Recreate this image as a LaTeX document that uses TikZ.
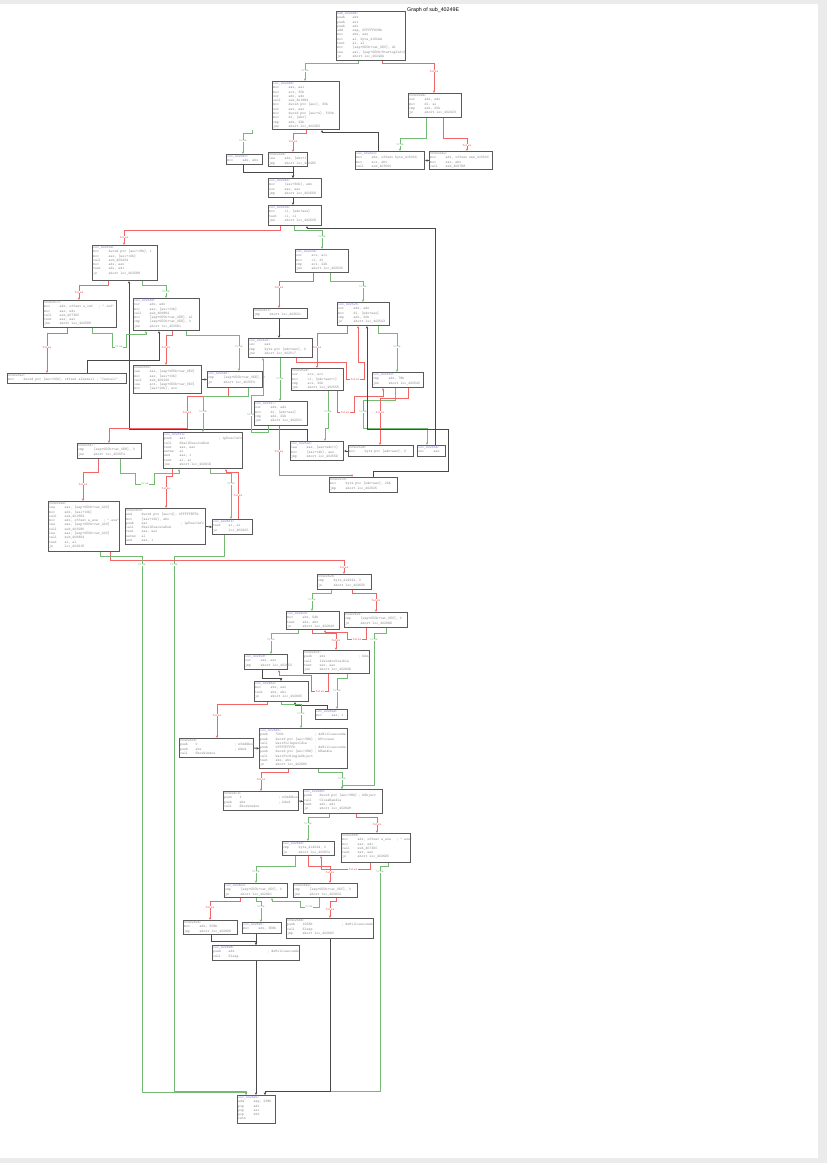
\documentclass[tikz,border=0pt]{standalone}
\usepackage{fontspec}
\setsansfont{Liberation Sans}
\usetikzlibrary{arrows.meta}
\pgfdeclarelayer{back}
\pgfdeclarelayer{bg}
\pgfsetlayers{back,bg,main}
\definecolor{bord}{HTML}{5A5A5A}
\definecolor{txtc}{HTML}{8A8A8A}
\definecolor{lbl}{HTML}{7C7CD6}
\definecolor{tg}{HTML}{74BA74}
\definecolor{fr}{HTML}{F06666}
\definecolor{un}{HTML}{484848}
\newcommand\bfont{\fontsize{3.7}{4.3}\selectfont\ttfamily}
\newcommand\lfont{\fontsize{3.3}{3.5}\selectfont\ttfamily}
\newcommand\Ins[2]{\makebox[4.2em][l]{#1}#2}
\newcommand\InsC[3]{\makebox[4.2em][l]{#1}\makebox[10.5em][l]{#2}; #3}
\newcommand\Lb[1]{\textcolor{lbl}{#1}}
\tikzset{
 box/.style={draw=bord, line width=1pt, fill=white, anchor=north west, inner sep=0pt},
 txt/.style={anchor=north west, inner sep=0.9pt, align=left, font=\bfont, text=txtc},
 T/.style={draw=tg, line width=0.8pt, -{Stealth[length=2.6pt,width=2.4pt]}},
 F/.style={draw=fr, line width=0.8pt, -{Stealth[length=2.6pt,width=2.4pt]}},
 U/.style={draw=un, line width=0.8pt, -{Stealth[length=2.6pt,width=2.4pt]}},
 tl/.style={font=\lfont, text=tg, fill=white, inner sep=0.3pt},
 fl/.style={font=\lfont, text=fr, fill=white, inner sep=0.3pt}
}
\newcommand\blk[6]{\node[box, minimum width=#4pt, minimum height=#5pt] (#1) at (#2,#3) {};
 \node[txt] (#1t) at (#1.north west) {#6};}
\newcommand\TL[3]{\node[tl] (#1) at (#2,#3) {true};}
\newcommand\FL[3]{\node[fl] (#1) at (#2,#3) {false};}
\begin{document}
\begin{tikzpicture}[x=1pt,y=-1pt]
\useasboundingbox (0,0) rectangle (827,1163);
\begin{pgfonlayer}{back}
\fill[gray!16] (0,0) rectangle (827,1163);
\fill[white] (0,4) rectangle (818,1158);
\end{pgfonlayer}
\node[font=\fontsize{5.3}{6}\selectfont\sffamily, anchor=west, inner sep=0pt] (title) at (407,10) {Graph of sub\_40249E};

\blk{b0}{336}{11}{69}{49}{\Lb{sub\_40249E:}\\\Ins{push}{ebx}\\\Ins{push}{esi}\\\Ins{push}{edi}\\\Ins{add}{esp, 0FFFFFDC8h}\\\Ins{mov}{ebx, eax}\\\Ins{mov}{al, byte\_4150AA}\\\Ins{test}{al, al}\\\Ins{mov}{[esp+0ECh+var\_0EC], dl}\\\Ins{lea}{esi, [esp+0ECh+StartupInfo]}\\\Ins{jz}{short loc\_4024DA}}
\blk{b1}{272}{81}{67}{48}{\Lb{loc\_4024B6:}\\\Ins{mov}{eax, esi}\\\Ins{mov}{ecx, 3Ch}\\\Ins{xor}{edx, edx}\\\Ins{call}{sub\_4019B4}\\\Ins{mov}{dword ptr [esi], 3Ch}\\\Ins{xor}{eax, eax}\\\Ins{mov}{dword ptr [esi+4], 500h}\\\Ins{mov}{dl, [ebx]}\\\Ins{cmp}{edx, 22h}\\\Ins{jnz}{short loc\_4024E3}}
\blk{b2}{408}{93}{53}{24}{004024DA:\\\Ins{xor}{edx, edx}\\\Ins{mov}{dl, al}\\\Ins{cmp}{edx, 20h}\\\Ins{jz}{short loc\_4024C3}}
\blk{b3}{226}{154}{36}{10}{\Lb{loc\_4024E3:}\\\Ins{mov}{edx, ebx}}
\blk{b4}{268}{152}{39}{14}{004024DE:\\\Ins{lea}{edx, [ebx+1]}\\\Ins{jmp}{short loc\_4024E5}}
\blk{b5}{355}{151}{69}{18}{\Lb{loc\_4024C3:}\\\Ins{mov}{edx, offset byte\_415004}\\\Ins{mov}{ecx, ebx}\\\Ins{call}{sub\_403500}}
\blk{b6}{429}{151}{63}{18}{004024E2:\\\Ins{mov}{edx, offset unk\_41500C}\\\Ins{mov}{eax, ebx}\\\Ins{call}{sub\_4067B8}}
\blk{b7}{268}{178}{53}{19}{\Lb{loc\_4024E5:}\\\Ins{mov}{[esi+30h], edx}\\\Ins{xor}{eax, eax}\\\Ins{jmp}{short loc\_402556}}
\blk{b8}{268}{205}{53}{20}{\Lb{loc\_402556:}\\\Ins{mov}{cl, [edx+eax]}\\\Ins{test}{cl, cl}\\\Ins{jnz}{short loc\_40250E}}
\blk{b9}{92}{245}{65}{35}{\Lb{loc\_40255D:}\\\Ins{mov}{dword ptr [esi+18h], 1}\\\Ins{mov}{eax, [esi+10h]}\\\Ins{call}{sub\_406434}\\\Ins{mov}{edi, eax}\\\Ins{test}{edi, edi}\\\Ins{jz}{short loc\_402589}}
\blk{b10}{295}{249}{53}{23}{\Lb{loc\_40250E:}\\\Ins{xor}{ecx, ecx}\\\Ins{mov}{cl, dl}\\\Ins{cmp}{ecx, 22h}\\\Ins{jnz}{short loc\_402525}}
\blk{b11}{253}{308}{54}{10}{00402515:\\\Ins{jmp}{short loc\_402521}}
\blk{b12}{337}{302}{52}{23}{\Lb{loc\_402525:}\\\Ins{xor}{edx, edx}\\\Ins{mov}{dl, [edx+eax]}\\\Ins{cmp}{edx, 20h}\\\Ins{jz}{short loc\_402543}}
\blk{b13}{248}{338}{64}{19}{\Lb{loc\_402521:}\\\Ins{inc}{eax}\\\Ins{cmp}{byte ptr [edx+eax], 0}\\\Ins{jnz}{short loc\_402517}}
\blk{b14}{291}{368}{52}{22}{0040252E:\\\Ins{xor}{ecx, ecx}\\\Ins{mov}{cl, [edx+eax+1]}\\\Ins{cmp}{ecx, 20h}\\\Ins{jnz}{short loc\_402555}}
\blk{b15}{372}{372}{51}{15}{\Lb{loc\_402543:}\\\Ins{cmp}{edx, 78h}\\\Ins{jnz}{short loc\_40254C}}
\blk{b16}{43}{300}{73}{27}{0040257C:\\\InsC{mov}{edx, offset a\_inf}{".inf"}\\\Ins{mov}{eax, edi}\\\Ins{call}{sub\_4073DC}\\\Ins{test}{eax, eax}\\\Ins{jnz}{short loc\_402589}}
\blk{b17}{133}{298}{66}{32}{\Lb{loc\_402589:}\\\Ins{xor}{edx, edx}\\\Ins{mov}{eax, [esi+10h]}\\\Ins{call}{sub\_406864}\\\Ins{mov}{[esp+0ECh+var\_0EB], al}\\\Ins{cmp}{[esp+0ECh+var\_0EB], 0}\\\Ins{jnz}{short loc\_4025B1}}
\blk{b18}{7}{373}{119}{10}{004025A3:\\\Ins{mov}{dword ptr [esi+0Ch], offset aInstall ; "Install"}}
\blk{b19}{133}{365}{68}{28}{0040259C:\\\Ins{lea}{eax, [esp+0ECh+var\_0EC]}\\\Ins{mov}{eax, [esi+10h]}\\\Ins{call}{sub\_406430}\\\Ins{lea}{ecx, [esp+0ECh+var\_0EC]}\\\Ins{mov}{[esi+10h], ecx}}
\blk{b20}{207}{371}{55}{16}{\Lb{loc\_4025B1:}\\\Ins{cmp}{[esp+0ECh+var\_0EE], 0}\\\Ins{jz}{short loc\_4025F4}}
\blk{b21}{163}{432}{79}{36}{\Lb{loc\_4025F4:}\\\InsC{push}{esi}{lpExecInfo}\\\Ins{call}{ShellExecuteExA}\\\Ins{test}{eax, eax}\\\Ins{setnz}{al}\\\Ins{and}{eax, 1}\\\Ins{test}{al, al}\\\Ins{jnz}{short loc\_40261E}}
\blk{b22}{77}{443}{64}{15}{004025E7:\\\Ins{cmp}{[esp+0ECh+var\_0E8], 0}\\\Ins{jnz}{short loc\_4025F4}}
\blk{b23}{48}{501}{71}{50}{004025ED:\\\Ins{lea}{eax, [esp+0ECh+var\_40C]}\\\Ins{mov}{edx, [esi+10h]}\\\Ins{call}{sub\_4019B4}\\\InsC{mov}{edx, offset a\_exe}{".exe"}\\\Ins{lea}{eax, [esp+0ECh+var\_40C]}\\\Ins{call}{sub\_403280}\\\Ins{lea}{eax, [esp+0ECh+var\_40C]}\\\Ins{call}{sub\_406864}\\\Ins{test}{al, al}\\\Ins{jz}{loc\_40261E}}
\blk{b24}{125}{508}{80}{36}{00402600:\\\Ins{and}{dword ptr [esi+4], 0FFFFFBFFh}\\\Ins{mov}{[esi+10h], ebx}\\\InsC{push}{esi}{lpExecInfo}\\\Ins{call}{ShellExecuteExA}\\\Ins{test}{eax, eax}\\\Ins{setnz}{al}\\\Ins{and}{eax, 1}}
\blk{b25}{212}{519}{40}{15}{\Lb{loc\_40261E:}\\\Ins{test}{al, al}\\\Ins{jz}{loc\_40260C}}
\blk{b26}{254}{401}{53}{24}{\Lb{loc\_402517:}\\\Ins{xor}{edx, edx}\\\Ins{mov}{dl, [edx+eax]}\\\Ins{cmp}{edx, 22h}\\\Ins{jnz}{short loc\_402521}}
\blk{b27}{290}{441}{53}{19}{\Lb{loc\_40254C:}\\\Ins{lea}{eax, [eax+edx+1]}\\\Ins{mov}{[esi+14h], eax}\\\Ins{jmp}{short loc\_40255D}}
\blk{b28}{348}{445}{65}{11}{00402548:\\\Ins{mov}{byte ptr [edx+eax], 0}}
\blk{b29}{417}{445}{28}{11}{\Lb{loc\_40255A:}\\\Ins{inc}{eax}}
\blk{b30}{329}{477}{68}{15}{00402535:\\\Ins{mov}{byte ptr [edx+eax], 20h}\\\Ins{jmp}{short loc\_402525}}
\blk{b32}{317}{574}{54}{15}{00402626:\\\Ins{cmp}{byte\_414044, 0}\\\Ins{jz}{short loc\_402635}}
\blk{b33}{286}{611}{53}{18}{\Lb{loc\_402635:}\\\Ins{mov}{ebx, 5Ah}\\\Ins{test}{ebx, ebx}\\\Ins{jz}{short loc\_402649}}
\blk{b34}{344}{612}{63}{15}{0040262F:\\\Ins{cmp}{[esp+0ECh+var\_0EC], 0}\\\Ins{jz}{short loc\_40268D}}
\blk{b35}{244}{654}{43}{15}{\Lb{loc\_402649:}\\\Ins{xor}{eax, eax}\\\Ins{jmp}{short loc\_402652}}
\blk{b36}{303}{650}{66}{23}{0040263F:\\\InsC{push}{ebx}{hWnd}\\\Ins{call}{IsWindowVisible}\\\Ins{test}{eax, eax}\\\Ins{jnz}{short loc\_40264D}}
\blk{b37}{254}{681}{54}{20}{\Lb{loc\_402652:}\\\Ins{mov}{ebx, eax}\\\Ins{test}{ebx, ebx}\\\Ins{jz}{short loc\_402665}}
\blk{b38}{315}{709}{32}{10}{\Lb{loc\_40264D:}\\\Ins{mov}{eax, 1}}
\blk{b39}{179}{738}{74}{19}{00402658:\\\InsC{push}{0}{nCmdShow}\\\InsC{push}{ebx}{hWnd}\\\Ins{call}{ShowWindow}}
\blk{b40}{259}{728}{88}{40}{\Lb{loc\_402665:}\\\InsC{push}{7D0h}{dwMilliseconds}\\\InsC{push}{dword ptr [esi+38h]}{hProcess}\\\Ins{call}{WaitForInputIdle}\\\InsC{push}{0FFFFFFFFh}{dwMilliseconds}\\\InsC{push}{dword ptr [esi+38h]}{hHandle}\\\Ins{call}{WaitForSingleObject}\\\Ins{test}{ebx, ebx}\\\Ins{jz}{short loc\_402680}}
\blk{b41}{223}{791}{75}{19}{0040267D:\\\InsC{push}{1}{nCmdShow}\\\InsC{push}{ebx}{hWnd}\\\Ins{call}{ShowWindow}}
\blk{b42}{303}{789}{79}{24}{\Lb{loc\_402680:}\\\InsC{push}{dword ptr [esi+38h]}{hObject}\\\Ins{call}{CloseHandle}\\\Ins{test}{edi, edi}\\\Ins{jz}{short loc\_4026A9}}
\blk{b43}{282}{841}{52}{14}{\Lb{loc\_4026A9:}\\\Ins{cmp}{byte\_414044, 0}\\\Ins{jz}{short loc\_4026C4}}
\blk{b44}{341}{833}{69}{29}{00402699:\\\InsC{mov}{edx, offset a\_exe}{".exe"}\\\Ins{mov}{eax, edi}\\\Ins{call}{sub\_4073DC}\\\Ins{test}{eax, eax}\\\Ins{jz}{short loc\_4026DC}}
\blk{b45}{224}{883}{63}{14}{\Lb{loc\_4026C4:}\\\Ins{cmp}{[esp+0ECh+var\_0EC], 0}\\\Ins{jz}{short loc\_4026D1}}
\blk{b46}{293}{883}{64}{14}{004026B2:\\\Ins{cmp}{[esp+0ECh+var\_0EC], 0}\\\Ins{jnz}{short loc\_4026C4}}
\blk{b47}{183}{920}{54}{14}{004026CA:\\\Ins{mov}{edx, 3C8h}\\\Ins{jmp}{short loc\_4026D6}}
\blk{b48}{242}{922}{39}{11}{\Lb{loc\_4026D1:}\\\Ins{mov}{edx, 3E8h}}
\blk{b49}{286}{918}{87}{20}{004026BB:\\\InsC{push}{1D58h}{dwMilliseconds}\\\Ins{call}{Sleep}\\\Ins{jmp}{short loc\_4026DC}}
\blk{b50}{212}{945}{87}{15}{\Lb{loc\_4026D6:}\\\InsC{push}{edx}{dwMilliseconds}\\\Ins{call}{Sleep}}
\blk{b51}{237}{1095}{38}{28}{\Lb{loc\_4026DC:}\\\Ins{add}{esp, 238h}\\\Ins{pop}{edi}\\\Ins{pop}{esi}\\\Ins{pop}{ebx}\\\Ins{retn}{}}

\begin{pgfonlayer}{bg}
% top part
\draw[T] (358,0|-b0.south) -- (358,63) -- (305,63) -- (305,0|-b1.north);
\draw[F] (382,0|-b0.south) -- (382,63) -- (434,63) -- (434,0|-b2.north);
\draw[T] (252,0|-b1.south) -- (252,133) -- (243,133) -- (243,0|-b3.north);
\draw[F] (306,0|-b1.south) -- (306,133) -- (293,133) -- (293,0|-b4.north);
\draw[U] (378,0|-b5.north) -- (378,132) -- (322,132) -- (322,0|-b1.south);
\draw[T] (426,0|-b2.south) -- (426,138) -- (400,138) -- (400,0|-b5.north);
\draw[F] (443,0|-b2.south) -- (443,138) -- (467,138) -- (467,0|-b6.north);
\draw[U] (b6.west) -- (b5.east);
\draw[U] (243,0|-b3.south) -- (243,172) -- (293,172) -- (293,0|-b7.north);
\draw[U] (293,0|-b4.south) -- (293,0|-b7.north);
\draw[U] (293,0|-b7.south) -- (293,0|-b8.north);
\draw[F] (280,0|-b8.south) -- (280,230) -- (124,230) -- (124,0|-b9.north);
\draw[T] (294,0|-b8.south) -- (294,230) -- (322,230) -- (322,0|-b10.north);
\draw[U] (435,0|-b29.north) -- (435,228) -- (307,228) -- (307,0|-b8.south);
% left part
\draw[F] (108,0|-b9.south) -- (108,285) -- (79,285) -- (79,0|-b16.north);
\draw[T] (142,0|-b9.south) -- (142,285) -- (166,285) -- (166,0|-b17.north);
\draw[U] (307,0|-b27.north) -- (307,429) -- (129,429) -- (129,0|-b9.south);
\draw[F] (67,0|-b16.south) -- (67,333) -- (47,333) -- (47,0|-b18.north);
\draw[T] (92,0|-b16.south) -- (92,333) -- (112,333) -- (112,347) -- (126,347) -- (126,334) -- (146,334) -- (146,0|-b17.south);
\draw[U] (87,0|-b18.north) -- (87,360) -- (159,360) -- (159,0|-b17.south);
\draw[F] (172,0|-b17.south) -- (172,335) -- (166,335) -- (166,0|-b19.north);
\draw[T] (186,0|-b17.south) -- (186,335) -- (239,335) -- (239,0|-b20.north);
\draw[U] (b19.east) -- (b20.west);
\draw[F] (228,0|-b20.south) -- (228,396) -- (187,396) -- (187,428) -- (109,428) -- (109,0|-b22.north);
\draw[T] (248,0|-b20.south) -- (248,396) -- (203,396) -- (203,0|-b21.north);
\draw[F] (98,0|-b22.south) -- (98,472) -- (83,472) -- (83,0|-b23.north);
\draw[T] (120,0|-b22.south) -- (120,473) -- (135,473) -- (135,484) -- (154,484) -- (154,473) -- (179,473) -- (179,0|-b21.south);
\draw[F] (172,0|-b21.south) -- (172,476) -- (166,476) -- (166,0|-b24.north);
\draw[T] (210,0|-b21.south) -- (210,473) -- (231,473) -- (231,0|-b25.north);
\draw[U] (b24.east) -- (b25.west);
\draw[F] (238,0|-b25.north) -- (238,472) -- (226,472) -- (226,0|-b21.south);
\draw[T] (224,0|-b25.south) -- (224,556) -- (174,556) -- (174,1091) -- (246,1091) -- (246,0|-b51.north);
\draw[F] (110,0|-b23.south) -- (110,560) -- (344,560) -- (344,0|-b32.north);
\draw[T] (100,0|-b23.south) -- (100,556) -- (142,556) -- (142,1092) -- (246,1092) -- (246,0|-b51.north);
% loop part
\draw[F] (313,0|-b10.south) -- (313,281) -- (279,281) -- (279,0|-b11.north);
\draw[T] (330,0|-b10.south) -- (330,281) -- (363,281) -- (363,0|-b12.north);
\draw[U] (279,0|-b11.south) -- (279,0|-b13.north);
\draw[F] (347,0|-b12.south) -- (347,333) -- (317,333) -- (317,0|-b14.north);
\draw[T] (378,0|-b12.south) -- (378,333) -- (397,333) -- (397,0|-b15.north);
\draw[T] (280,0|-b13.south) -- (280,0|-b26.north);
\draw[F] (296,0|-b13.south) -- (296,362) -- (346,362) -- (346,379) -- (364,379) -- (364,362) -- (358,362) -- (358,0|-b12.south);
\draw[T] (268,0|-b26.south) -- (268,432) -- (251,432) -- (251,395) -- (263,395) -- (263,0|-b13.south);
\draw[F] (279,0|-b26.south) -- (279,475) -- (352,475) -- (352,0|-b30.north);
\draw[T] (328,0|-b14.south) -- (328,428) -- (325,428) -- (325,0|-b27.north);
\draw[F] (337,0|-b14.south) -- (337,412) -- (354,412) -- (354,396) -- (383,396) -- (383,0|-b15.south);
\draw[T] (395,0|-b15.south) -- (395,400) -- (363,400) -- (363,428) -- (427,428) -- (427,0|-b29.north);
\draw[F] (408,0|-b15.south) -- (408,398) -- (380,398) -- (380,0|-b28.north);
\draw[U] (b28.west) -- (b27.east);
\draw[U] (373,0|-b30.north) -- (373,471) -- (448,471) -- (448,429) -- (367,429) -- (367,0|-b12.south);
% lower part
\draw[T] (331,0|-b32.south) -- (331,593) -- (312,593) -- (312,0|-b33.north);
\draw[F] (352,0|-b32.south) -- (352,593) -- (376,593) -- (376,0|-b34.north);
\draw[T] (298,0|-b33.south) -- (298,633) -- (271,633) -- (271,0|-b35.north);
\draw[F] (312,0|-b33.south) -- (312,633) -- (336,633) -- (336,0|-b36.north);
\draw[F] (366,0|-b34.south) -- (366,639) -- (347,639) -- (347,632) -- (325,632) -- (325,0|-b33.south);
\draw[T] (386,0|-b34.south) -- (386,633) -- (374,633) -- (374,785) -- (342,785) -- (342,0|-b42.north);
\draw[U] (262,0|-b35.south) -- (262,678) -- (281,678) -- (281,0|-b37.north);
\draw[F] (328,0|-b36.south) -- (328,691) -- (311,691) -- (311,675) -- (279,675) -- (279,0|-b35.south);
\draw[T] (347,0|-b36.south) -- (347,678) -- (337,678) -- (337,0|-b38.north);
\draw[U] (327,0|-b38.north) -- (327,705) -- (295,705) -- (295,0|-b37.south);
\draw[F] (267,0|-b37.south) -- (267,704) -- (217,704) -- (217,0|-b39.north);
\draw[T] (281,0|-b37.south) -- (281,704) -- (301,704) -- (301,0|-b40.north);
\draw[U] (b39.east) -- (b40.west);
\draw[F] (288,0|-b40.south) -- (288,772) -- (261,772) -- (261,0|-b41.north);
\draw[T] (318,0|-b40.south) -- (318,772) -- (342,772) -- (342,0|-b42.north);
\draw[U] (b41.east) -- (b42.west);
\draw[T] (329,0|-b42.south) -- (329,817) -- (308,817) -- (308,0|-b43.north);
\draw[F] (356,0|-b42.south) -- (356,817) -- (377,817) -- (377,0|-b44.north);
\draw[T] (295,0|-b43.south) -- (295,866) -- (256,866) -- (256,0|-b45.north);
\draw[F] (308,0|-b43.south) -- (308,866) -- (330,866) -- (330,0|-b46.north);
\draw[F] (370,0|-b44.south) -- (370,869) -- (321,869) -- (321,0|-b43.south);
\draw[T] (388,0|-b44.south) -- (388,866) -- (380,866) -- (380,1091) -- (265,1091) -- (265,0|-b51.north);
\draw[F] (240,0|-b45.south) -- (240,901) -- (210,901) -- (210,0|-b47.north);
\draw[T] (256,0|-b45.south) -- (256,901) -- (261,901) -- (261,0|-b48.north);
\draw[T] (319,0|-b46.south) -- (319,907) -- (300,907) -- (300,901) -- (272,901) -- (272,0|-b45.south);
\draw[F] (336,0|-b46.south) -- (336,901) -- (330,901) -- (330,0|-b49.north);
\draw[U] (211,0|-b47.south) -- (211,941) -- (256,941) -- (256,0|-b50.north);
\draw[U] (256,0|-b48.south) -- (256,0|-b50.north);
\draw[U] (330,0|-b49.south) -- (330,1091) -- (265,1091) -- (265,0|-b51.north);
\draw[U] (256,0|-b50.south) -- (256,0|-b51.north);
% labels
\TL{t1}{305}{71} \FL{f1}{434}{71}
\TL{t2}{243}{141} \FL{f2}{293}{141}
\TL{t3}{400}{145} \FL{f3}{467}{145}
\FL{f4}{124}{237} \TL{t4}{322}{237}
\FL{f5}{79}{292} \TL{t5}{166}{292}
\FL{f6}{47}{347} \TL{t6}{119}{347}
\FL{f7}{166}{347} \TL{t7}{239}{347}
\FL{f8}{187}{412} \TL{t8}{203}{412}
\FL{f9}{83}{484} \TL{t9}{145}{484}
\FL{f10}{166}{488} \TL{t10}{231}{484}
\FL{f30}{238}{495}
\FL{f31}{344}{567}
\FL{f11}{279}{287} \TL{t11}{363}{287}
\FL{f12}{317}{347} \TL{t12}{397}{347}
\TL{t13}{280}{379} \TL{t14}{251}{415}
\FL{f13}{355}{379}
\FL{f14}{279}{451} \TL{t15}{328}{412}
\FL{f15}{345}{412} \TL{t16}{363}{412} \FL{f16}{380}{412}
\TL{t17}{142}{565} \TL{t18}{174}{565}
\TL{t19}{312}{600} \FL{f19}{376}{600}
\TL{t20}{271}{640} \FL{f20}{336}{640}
\FL{f21}{357}{639} \TL{t21}{374}{640}
\FL{f22}{320}{691} \TL{t22}{337}{691}
\FL{f23}{217}{715} \TL{t23}{301}{714}
\FL{f24}{261}{779} \TL{t24}{342}{779}
\TL{t25}{308}{824} \FL{f25}{377}{824}
\TL{t26}{256}{872} \FL{f26}{330}{872}
\FL{f27}{353}{869} \TL{t27}{380}{872}
\FL{f28}{210}{907} \TL{t28}{261}{907}
\TL{t29}{309}{907} \FL{f29}{330}{909}
\end{pgfonlayer}
\end{tikzpicture}
\end{document}
